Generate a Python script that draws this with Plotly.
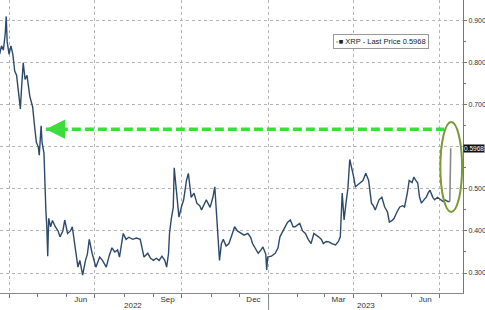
import plotly.graph_objects as go

dates = [
"2022-03-22","2022-03-24","2022-03-26","2022-03-28","2022-03-29","2022-03-30","2022-04-01","2022-04-03","2022-04-05","2022-04-07",
"2022-04-09","2022-04-10","2022-04-12","2022-04-13","2022-04-14","2022-04-16","2022-04-18","2022-04-20","2022-04-23","2022-04-26",
"2022-04-28","2022-04-30","2022-05-02","2022-05-03","2022-05-05","2022-05-06","2022-05-08","2022-05-09","2022-05-10","2022-05-11",
"2022-05-12","2022-05-13","2022-05-15","2022-05-17","2022-05-20","2022-05-23","2022-05-25","2022-05-28","2022-05-30","2022-06-02",
"2022-06-05","2022-06-07","2022-06-10","2022-06-13","2022-06-15","2022-06-18","2022-06-21","2022-06-23","2022-06-25","2022-06-28",
"2022-07-02","2022-07-06","2022-07-09","2022-07-13","2022-07-16","2022-07-19","2022-07-22","2022-07-25","2022-07-27","2022-07-31",
"2022-08-03","2022-08-06","2022-08-10","2022-08-14","2022-08-18","2022-08-22","2022-08-26","2022-08-29","2022-09-01","2022-09-04",
"2022-09-07","2022-09-10","2022-09-13","2022-09-15","2022-09-17","2022-09-18","2022-09-20","2022-09-22","2022-09-23","2022-09-25",
"2022-09-28","2022-10-01","2022-10-03","2022-10-06","2022-10-08","2022-10-11","2022-10-14","2022-10-17","2022-10-20","2022-10-22",
"2022-10-25","2022-10-27","2022-10-31","2022-11-03","2022-11-05","2022-11-06","2022-11-08","2022-11-10","2022-11-12","2022-11-14",
"2022-11-17","2022-11-20","2022-11-23","2022-11-26","2022-11-29","2022-12-03","2022-12-06","2022-12-10","2022-12-13","2022-12-15",
"2022-12-18","2022-12-21","2022-12-24","2022-12-26","2022-12-29","2022-12-30","2022-12-31","2023-01-04","2023-01-08","2023-01-11",
"2023-01-13","2023-01-16","2023-01-19","2023-01-21","2023-01-24","2023-01-27","2023-01-29","2023-02-01","2023-02-03","2023-02-06",
"2023-02-09","2023-02-12","2023-02-15","2023-02-18","2023-02-21","2023-02-23","2023-02-26","2023-02-28","2023-03-03","2023-03-06",
"2023-03-09","2023-03-13","2023-03-16","2023-03-18","2023-03-20","2023-03-22","2023-03-24","2023-03-26","2023-03-28","2023-03-30",
"2023-04-01","2023-04-03","2023-04-06","2023-04-08","2023-04-11","2023-04-14","2023-04-17","2023-04-20","2023-04-22","2023-04-24",
"2023-04-26","2023-04-28","2023-05-01","2023-05-04","2023-05-07","2023-05-09","2023-05-12","2023-05-14","2023-05-17","2023-05-20",
"2023-05-23","2023-05-25","2023-05-28","2023-05-30","2023-06-02","2023-06-04","2023-06-06","2023-06-08","2023-06-10","2023-06-12",
"2023-06-15","2023-06-17","2023-06-19","2023-06-21","2023-06-24","2023-06-26","2023-06-29","2023-07-02","2023-07-05","2023-07-07",
"2023-07-10","2023-07-12","2023-07-13"]

prices = [
0.82,0.84,0.83,0.87,0.91,0.85,0.82,0.84,0.82,0.78,
0.77,0.75,0.70,0.69,0.73,0.80,0.76,0.77,0.72,0.695,
0.65,0.61,0.60,0.58,0.65,0.61,0.585,0.505,0.45,0.41,
0.34,0.43,0.41,0.425,0.41,0.40,0.386,0.40,0.426,0.394,
0.40,0.41,0.36,0.314,0.33,0.295,0.33,0.345,0.38,0.347,
0.314,0.338,0.33,0.314,0.34,0.36,0.35,0.355,0.338,0.394,
0.38,0.385,0.38,0.383,0.38,0.338,0.347,0.335,0.33,0.335,
0.33,0.34,0.33,0.314,0.347,0.394,0.43,0.456,0.55,0.505,
0.433,0.46,0.474,0.52,0.537,0.48,0.49,0.466,0.46,0.45,
0.465,0.474,0.456,0.48,0.505,0.474,0.40,0.33,0.37,0.38,
0.364,0.37,0.39,0.41,0.40,0.394,0.39,0.394,0.385,0.37,
0.36,0.347,0.355,0.362,0.345,0.307,0.338,0.34,0.347,0.36,
0.386,0.40,0.41,0.42,0.426,0.41,0.41,0.415,0.418,0.40,
0.394,0.38,0.37,0.394,0.39,0.386,0.38,0.37,0.375,0.374,
0.37,0.367,0.375,0.386,0.49,0.426,0.466,0.50,0.57,0.545,
0.53,0.505,0.51,0.514,0.52,0.537,0.52,0.466,0.46,0.45,
0.46,0.474,0.48,0.457,0.445,0.421,0.425,0.43,0.445,0.457,
0.46,0.457,0.49,0.52,0.515,0.528,0.52,0.514,0.48,0.466,
0.475,0.48,0.49,0.497,0.48,0.474,0.48,0.474,0.47,0.474,
0.47,0.47,0.5968]

last_price = prices[-1]
month_label_dates = ["2022-03-16","2022-06-16","2022-09-16","2022-12-16","2023-03-16","2023-06-16"]
month_labels = ["Mar","Jun","Sep","Dec","Mar","Jun"]
quarter_dates = ["2022-04-01","2022-07-01","2022-10-01","2023-01-01","2023-04-01","2023-07-01"]
year_label_dates = ["2022-08-10","2023-04-14"]
year_labels = ["2022","2023"]
y_ticks = [0.3,0.4,0.5,0.6,0.7,0.8,0.9]
y_tick_text = ["0.300","0.400","0.500","","0.700","0.800","0.900"]

x_range = ["2022-03-22 10:00","2023-07-26"]
y_range = [0.2525, 0.949]
level = 0.642
arrow_start = "2023-07-06"
arrow_tip = "2022-05-10"
ell = dict(x0="2023-07-02", x1="2023-07-25", y0=0.445, y1=0.659)

FONT = "Liberation Sans, Arial, sans-serif"
fig = go.Figure()
fig.add_trace(go.Scatter(x=dates[:-1], y=prices[:-1], mode="lines",
                         line=dict(color="#2d4a6b", width=1.4), showlegend=False))
fig.add_trace(go.Scatter(x=dates[-2:], y=prices[-2:], mode="lines",
                         line=dict(color="#8a8a8a", width=1.6), showlegend=False))

# invisible trace to drive the label axis
fig.add_trace(go.Scatter(x=[dates[0]], y=[prices[0]], xaxis="x2", mode="markers",
                         marker=dict(opacity=0), showlegend=False, hoverinfo="skip"))

fig.update_layout(
    width=485, height=310,
    margin=dict(l=0, r=22, t=0, b=17),
    paper_bgcolor="white", plot_bgcolor="white",
    font=dict(family=FONT, size=8, color="#333"),
    xaxis=dict(range=x_range, type="date", tickvals=quarter_dates, showticklabels=False,
               showgrid=True, gridcolor="#b5b5b5", griddash="dot", gridwidth=1,
               ticks="outside", ticklen=4, tickcolor="#777", automargin=False,
               minor=dict(dtick="M1", ticks="outside", ticklen=3, tickcolor="#777", showgrid=False),
               showline=True, linecolor="#888", linewidth=1, zeroline=False),
    xaxis2=dict(range=x_range, type="date", overlaying="x", anchor="y", side="bottom",
                tickvals=month_label_dates, ticktext=month_labels, ticks="", showgrid=False,
                showline=False, zeroline=False, automargin=False,
                tickfont=dict(size=8, color="#333")),
    yaxis=dict(range=y_range, side="right", tickvals=y_ticks, ticktext=y_tick_text,
               showgrid=True, gridcolor="#b5b5b5", griddash="dot", gridwidth=1,
               ticks="outside", ticklen=3, tickcolor="#777", automargin=False,
               minor=dict(dtick=0.05, ticks="outside", ticklen=2, tickcolor="#777", showgrid=False),
               showline=True, linecolor="#777", linewidth=1, zeroline=False,
               tickfont=dict(size=7, color="#333")),
)

# year separator tick
fig.add_shape(type="line", xref="x", yref="paper", x0="2023-01-01", x1="2023-01-01", y0=0, y1=-0.06,
              line=dict(color="#888", width=1))

for d, t in zip(year_label_dates, year_labels):
    fig.add_annotation(x=d, y=0, xref="x", yref="paper", text=t, showarrow=False,
                       yanchor="top", yshift=-6, font=dict(size=8, color="#333"))

# green dashed arrow
fig.add_shape(type="line", xref="x", yref="y", x0=arrow_tip, x1=arrow_start, y0=level, y1=level,
              line=dict(color="#3ddc3d", width=3.5, dash="9px,4px"))
fig.add_annotation(x=arrow_tip, y=level, xref="x", yref="y", ax=12, ay=0, text="",
                   showarrow=True, arrowhead=2, arrowsize=1.1, arrowwidth=3.5, arrowcolor="#3ddc3d",
                   standoff=0)

# ellipse
fig.add_shape(type="circle", xref="x", yref="y", **ell, line=dict(color="#7a9a34", width=2))

# legend box
fig.add_annotation(x=0.72, y=0.858, xref="paper", yref="paper", xanchor="left", yanchor="middle",
                   text="<span style='color:#bbb'>▪</span>■ XRP - Last Price %.4f" % last_price,
                   showarrow=False, font=dict(size=7.5, color="#222"),
                   bordercolor="#999", borderwidth=1, borderpad=2, bgcolor="white")

# last price tag
fig.add_annotation(x=1, y=last_price, xref="paper", yref="y", xanchor="left", yanchor="middle",
                   xshift=0, text="%.4f" % last_price, showarrow=False,
                   font=dict(size=6.5, color="white"), bgcolor="#111", borderpad=0)

fig.write_html("out.html")
